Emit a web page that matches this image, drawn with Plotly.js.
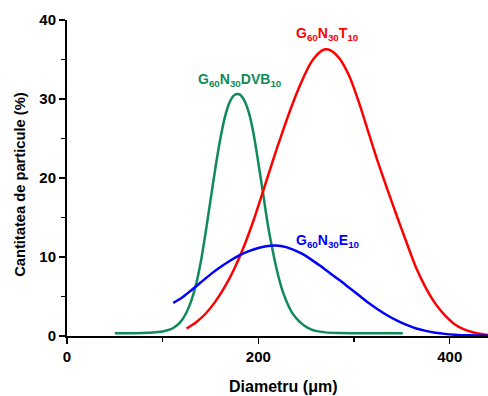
<!DOCTYPE html>
<html>
<head>
<meta charset="utf-8">
<script src="https://cdn.plot.ly/plotly-3.0.1.min.js"></script>
<style>html,body{margin:0;padding:0;background:#fff;}#chart{width:488px;height:396px;}</style>
</head>
<body>
<div id="chart"></div>
<script>
// Green: G60N30DVB10
var greenX = [50, 70, 85, 95, 100, 105, 110, 115, 120, 125, 130, 135, 140, 145, 150, 155, 160, 165, 170, 175, 180, 185, 190, 195, 200, 205, 210, 215, 220, 225, 230, 235, 240, 245, 250, 255, 260, 270, 285, 300, 351];
var greenY = [0.35, 0.36, 0.4, 0.5, 0.58, 0.72, 0.95, 1.35, 2.0, 3.0, 4.5, 6.6, 9.5, 13.2, 17.2, 21.2, 24.8, 27.7, 29.6, 30.5, 30.6, 29.9, 28.3, 25.6, 21.9, 18.0, 14.0, 10.8, 8.0, 5.8, 4.2, 3.0, 2.2, 1.6, 1.15, 0.85, 0.65, 0.46, 0.38, 0.36, 0.35];
// Red: G60N30T10
var redX = [125, 135, 145, 155, 165, 175, 185, 195, 205, 215, 225, 235, 245, 255, 265, 270, 275, 285, 295, 305, 315, 325, 335, 345, 355, 365, 375, 385, 395, 405, 415, 425, 433, 441];
var redY = [0.95, 1.75, 2.85, 4.35, 6.25, 8.55, 11.35, 14.65, 18.35, 22.15, 25.75, 29.15, 32.15, 34.6, 36.0, 36.3, 36.2, 35.1, 32.9, 29.6, 25.8, 22.0, 18.5, 15.1, 11.8, 8.6, 6.1, 4.1, 2.6, 1.5, 0.85, 0.45, 0.25, 0.1];
// Blue: G60N30E10
var blueX = [111, 120, 130, 140, 150, 160, 170, 180, 190, 200, 210, 218, 225, 235, 245, 255, 265, 275, 285, 295, 305, 315, 325, 335, 345, 355, 365, 375, 385, 395, 405, 420, 441];
var blueY = [4.2, 4.85, 5.8, 6.8, 7.8, 8.7, 9.5, 10.2, 10.75, 11.15, 11.4, 11.45, 11.35, 11.0, 10.45, 9.7, 8.85, 7.95, 7.05, 6.1, 5.15, 4.2, 3.35, 2.6, 1.95, 1.4, 0.95, 0.65, 0.42, 0.27, 0.17, 0.08, 0.02];

var labels = ['G<sub>60</sub>N<sub>30</sub>DVB<sub>10</sub>', 'G<sub>60</sub>N<sub>30</sub>T<sub>10</sub>', 'G<sub>60</sub>N<sub>30</sub>E<sub>10</sub>'];
var colors = ['#0f8a58', '#ff0000', '#0000ff'];
var labelX = [181, 272, 273];
var labelY = [32.4, 38.2, 12.0];

var xTickVals = [0, 200, 400];
var yTickVals = [0, 10, 20, 30, 40];
var xTitle = 'Diametru (μm)';
var yTitle = 'Cantitatea de particule (%)';

var traces = [
  {x: greenX, y: greenY, mode: 'lines', line: {color: colors[0], width: 2.5, shape: 'spline', smoothing: 0.8}},
  {x: redX, y: redY, mode: 'lines', line: {color: colors[1], width: 2.5, shape: 'spline', smoothing: 0.8}},
  {x: blueX, y: blueY, mode: 'lines', line: {color: colors[2], width: 2.5, shape: 'spline', smoothing: 0.8}}
];

var font = 'Liberation Sans, Arial, sans-serif';
var annotations = labels.map(function (t, i) {
  return {x: labelX[i], y: labelY[i], xref: 'x', yref: 'y', text: '<b>' + t.replace(/<sub>(\d+)<\/sub>/g, '<sub><b>$1</b></sub>') + '</b>', showarrow: false,
    font: {family: font, size: 14, color: colors[i]}, xanchor: 'center', yanchor: 'middle'};
});
annotations.push({x: 0.512, y: -0.161, xref: 'paper', yref: 'paper', text: '<b>' + xTitle + '</b>', showarrow: false,
  font: {family: font, size: 16, color: '#000'}, xanchor: 'center', yanchor: 'middle'});
annotations.push({x: -0.112, y: 0.481, xref: 'paper', yref: 'paper', text: '<b>' + yTitle + '</b>', showarrow: false, textangle: -90,
  font: {family: font, size: 14.7, color: '#000'}, xanchor: 'center', yanchor: 'middle'});

var layout = {
  width: 488, height: 396,
  margin: {l: 67, r: 0, t: 20, b: 60},
  paper_bgcolor: '#fff', plot_bgcolor: '#fff',
  showlegend: false,
  font: {family: font, color: '#000'},
  xaxis: {
    range: [0, 440], tickvals: xTickVals, ticktext: xTickVals.map(function (v) { return '<b>' + v + '</b>'; }),
    ticks: 'outside', ticklen: 6, tickwidth: 1.5, tickcolor: '#000',
    minor: {tickvals: [100, 300], ticks: 'outside', ticklen: 4, tickwidth: 1.5, tickcolor: '#000'},
    showline: true, linecolor: '#000', linewidth: 2, showgrid: false, zeroline: false,
    tickfont: {size: 15, color: '#000'}
  },
  yaxis: {
    range: [0, 40], tickvals: yTickVals, ticktext: yTickVals.map(function (v) { return '<b>' + v + '</b>'; }),
    ticks: 'outside', ticklen: 6, tickwidth: 1.5, tickcolor: '#000',
    minor: {tickvals: [5, 15, 25, 35], ticks: 'outside', ticklen: 4, tickwidth: 1.5, tickcolor: '#000'},
    showline: true, linecolor: '#000', linewidth: 2, showgrid: false, zeroline: false,
    tickfont: {size: 15, color: '#000'}
  },
  annotations: annotations
};

Plotly.newPlot('chart', traces, layout, {displayModeBar: false, staticPlot: true});
</script>
</body>
</html>
